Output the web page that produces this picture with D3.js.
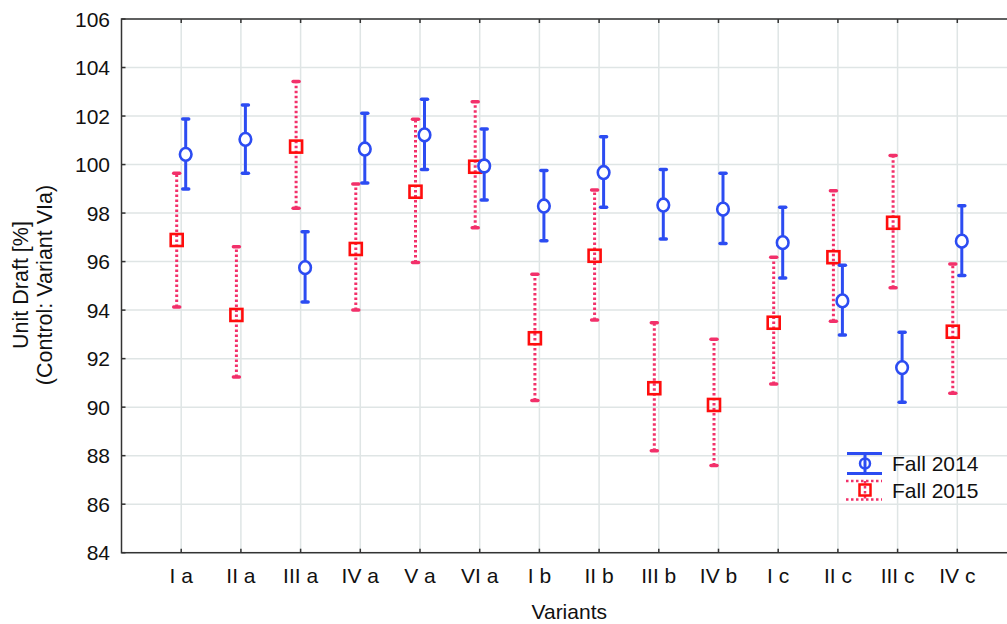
<!DOCTYPE html>
<html>
<head>
<meta charset="utf-8">
<script src="https://cdn.jsdelivr.net/npm/d3@7/dist/d3.min.js"></script>
<style>
  body { margin: 0; background: #fff; }
  svg { display: block; font-family: "Liberation Sans", Arial, sans-serif; }
</style>
</head>
<body>
<svg id="chart" width="1007" height="624"></svg>
<script>
// variants on x axis
var variants = ["I a", "II a", "III a", "IV a", "V a", "VI a", "I b", "II b", "III b", "IV b", "I c", "II c", "III c", "IV c"];
var yTicks = [84, 86, 88, 90, 92, 94, 96, 98, 100, 102, 104, 106];

// Fall 2014 (blue circles)
var mean2014 = [100.42, 101.04, 95.75, 100.64, 101.22, 99.94, 98.29, 99.67, 98.33, 98.16, 96.78, 94.38, 91.63, 96.84];
var low2014  = [98.99, 99.64, 94.33, 99.24, 99.80, 98.54, 96.86, 98.24, 96.93, 96.75, 95.32, 92.97, 90.20, 95.43];
var high2014 = [101.88, 102.46, 97.23, 102.12, 102.69, 101.47, 99.75, 101.15, 99.80, 99.64, 98.24, 95.85, 93.09, 98.30];

// Fall 2015 (red squares)
var mean2015 = [96.89, 93.80, 100.74, 96.52, 98.88, 99.91, 92.84, 96.24, 90.78, 90.09, 93.48, 96.18, 97.60, 93.11];
var low2015  = [94.13, 91.24, 98.20, 94.00, 95.96, 97.40, 90.27, 93.59, 88.20, 87.59, 90.95, 93.54, 94.92, 90.57];
var high2015 = [99.64, 96.61, 103.42, 99.20, 101.87, 102.59, 95.48, 98.95, 93.48, 92.80, 96.18, 98.92, 100.37, 95.90];

var blue = "#2c4cf2", red = "#ff0d0d", pink = "#f2306a";
var pLeft = 121.5, pRight = 1017, pTop = 19, pBottom = 552.7;
var off = 4.5;

var svg = d3.select("#chart");

var x = d3.scalePoint().domain(variants).range([pLeft, pRight]).padding(1);
var y = d3.scaleLinear().domain([84, 106]).range([pBottom, pTop]);

// grid
var grid = svg.append("g").attr("stroke", "#dfe5e5").attr("stroke-width", 1.5);
grid.selectAll(".gx").data(variants).enter().append("line")
    .attr("x1", d => x(d)).attr("x2", d => x(d))
    .attr("y1", pTop).attr("y2", pBottom);
grid.selectAll(".gy").data(yTicks).enter().append("line")
    .attr("x1", pLeft).attr("x2", pRight)
    .attr("y1", d => y(d)).attr("y2", d => y(d));

// frame
svg.append("rect")
    .attr("x", pLeft).attr("y", pTop)
    .attr("width", pRight - pLeft).attr("height", pBottom - pTop)
    .attr("fill", "none").attr("stroke", "#333").attr("stroke-width", 1.5);

// inward ticks
var ticks = svg.append("g").attr("stroke", "#333").attr("stroke-width", 1.5);
ticks.selectAll(".tb").data(variants).enter().append("line")
    .attr("x1", d => x(d)).attr("x2", d => x(d))
    .attr("y1", pBottom).attr("y2", pBottom - 4);
ticks.selectAll(".tt").data(variants).enter().append("line")
    .attr("x1", d => x(d)).attr("x2", d => x(d))
    .attr("y1", pTop).attr("y2", pTop + 4);
ticks.selectAll(".tl").data(yTicks).enter().append("line")
    .attr("x1", pLeft).attr("x2", pLeft + 4)
    .attr("y1", d => y(d)).attr("y2", d => y(d));

// tick labels
svg.selectAll(".ylab").data(yTicks).enter().append("text")
    .attr("x", 110).attr("y", d => y(d)).attr("dy", "0.36em")
    .attr("text-anchor", "end").attr("font-size", 21).attr("fill", "#111")
    .text(d => d);
svg.selectAll(".xlab").data(variants).enter().append("text")
    .attr("x", d => x(d)).attr("y", 583)
    .attr("text-anchor", "middle").attr("font-size", 21).attr("fill", "#111")
    .text(d => d);

// axis titles
svg.append("text")
    .attr("x", (pLeft + pRight) / 2).attr("y", 619)
    .attr("text-anchor", "middle").attr("font-size", 21).attr("fill", "#111")
    .text("Variants");
var yt = svg.append("text")
    .attr("transform", "translate(0,285) rotate(-90)")
    .attr("text-anchor", "middle").attr("font-size", 21.5).attr("fill", "#111");
yt.append("tspan").attr("x", 0).attr("y", 28).text("Unit Draft [%]");
yt.append("tspan").attr("x", 0).attr("y", 52).text("(Control: Variant VIa)");

// Fall 2015 series
var s15 = svg.append("g");
s15.selectAll(".bar").data(variants).enter().append("line")
    .attr("x1", d => x(d) - off).attr("x2", d => x(d) - off)
    .attr("y1", (d, i) => y(low2015[i])).attr("y2", (d, i) => y(high2015[i]))
    .attr("stroke", pink).attr("stroke-width", 3).attr("stroke-dasharray", "2.5,2.5");
[low2015, high2015].forEach(function (arr) {
  s15.selectAll(null).data(variants).enter().append("line")
      .attr("x1", d => x(d) - off - 3).attr("x2", d => x(d) - off + 3)
      .attr("y1", (d, i) => y(arr[i])).attr("y2", (d, i) => y(arr[i]))
      .attr("stroke", pink).attr("stroke-width", 3.5).attr("stroke-linecap", "round");
});
s15.selectAll(".pt").data(variants).enter().append("rect")
    .attr("x", d => x(d) - off - 6).attr("y", (d, i) => y(mean2015[i]) - 6)
    .attr("width", 12).attr("height", 12)
    .attr("fill", "none").attr("stroke", red).attr("stroke-width", 2.6);

// Fall 2014 series
var s14 = svg.append("g");
s14.selectAll(".bar").data(variants).enter().append("line")
    .attr("x1", d => x(d) + off).attr("x2", d => x(d) + off)
    .attr("y1", (d, i) => y(low2014[i])).attr("y2", (d, i) => y(high2014[i]))
    .attr("stroke", blue).attr("stroke-width", 3);
[low2014, high2014].forEach(function (arr) {
  s14.selectAll(null).data(variants).enter().append("line")
      .attr("x1", d => x(d) + off - 3).attr("x2", d => x(d) + off + 3)
      .attr("y1", (d, i) => y(arr[i])).attr("y2", (d, i) => y(arr[i]))
      .attr("stroke", blue).attr("stroke-width", 3.5).attr("stroke-linecap", "round");
});
s14.selectAll(".pt").data(variants).enter().append("ellipse")
    .attr("cx", d => x(d) + off).attr("cy", (d, i) => y(mean2014[i]))
    .attr("rx", 5.8).attr("ry", 6.4)
    .attr("fill", "#fff").attr("stroke", blue).attr("stroke-width", 2.6);

// legend
var lg = svg.append("g").attr("transform", "translate(865,0)");
lg.append("line").attr("x1", -18).attr("x2", 17).attr("y1", 453.5).attr("y2", 453.5)
    .attr("stroke", blue).attr("stroke-width", 3);
lg.append("line").attr("x1", -18).attr("x2", 17).attr("y1", 473.5).attr("y2", 473.5)
    .attr("stroke", blue).attr("stroke-width", 3);
lg.append("line").attr("x1", 0).attr("x2", 0).attr("y1", 453.5).attr("y2", 473.5)
    .attr("stroke", blue).attr("stroke-width", 3);
lg.append("circle").attr("cx", 0).attr("cy", 463.5).attr("r", 5)
    .attr("fill", "none").attr("stroke", blue).attr("stroke-width", 2.5);
[481, 499.5].forEach(function (yy) {
  lg.append("line").attr("x1", -19).attr("x2", 17).attr("y1", yy).attr("y2", yy)
      .attr("stroke", pink).attr("stroke-width", 2.5).attr("stroke-dasharray", "2.5,2.5");
});
lg.append("line").attr("x1", 0).attr("x2", 0).attr("y1", 481).attr("y2", 499.5)
    .attr("stroke", pink).attr("stroke-width", 2.5).attr("stroke-dasharray", "2.5,2.5");
lg.append("rect").attr("x", -5.5).attr("y", 484.5).attr("width", 11).attr("height", 11)
    .attr("fill", "none").attr("stroke", red).attr("stroke-width", 2.5);
lg.append("text").attr("x", 27).attr("y", 463.5).attr("dy", "0.36em")
    .attr("font-size", 21).attr("fill", "#111").text("Fall 2014");
lg.append("text").attr("x", 27).attr("y", 490).attr("dy", "0.36em")
    .attr("font-size", 21).attr("fill", "#111").text("Fall 2015");
</script>
</body>
</html>
